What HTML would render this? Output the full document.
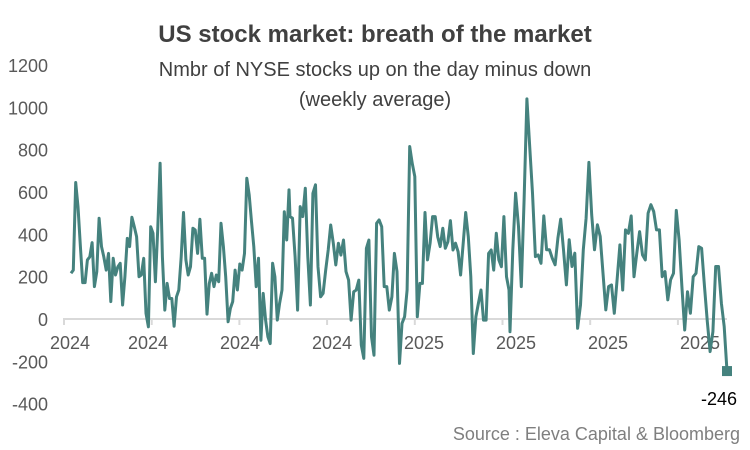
<!DOCTYPE html>
<html><head><meta charset="utf-8"><style>
body{margin:0;background:#fff;}
svg{display:block;font-family:"Liberation Sans",Arial,sans-serif;}
</style></head><body>
<svg id="chart" width="750" height="450" viewBox="0 0 750 450">
<text x="375" y="42" text-anchor="middle" font-size="24" font-weight="bold" fill="#404040">US stock market: breath of the market</text>
<text x="375" y="76" text-anchor="middle" font-size="20" fill="#404040">Nmbr of NYSE stocks up on the day minus down</text>
<text x="375" y="106" text-anchor="middle" font-size="20" fill="#404040">(weekly average)</text>
<g id="yaxis"></g>
<g id="xaxis"></g>
<g id="plot"></g>
<text x="740" y="440" text-anchor="end" font-size="18" fill="#7f7f7f">Source : Eleva Capital &amp; Bloomberg</text>
</svg>
<script>
const yTicks=[1200,1000,800,600,400,200,0,-200,-400];
const xLabels=["2024","2024","2024","2024","2025","2025","2025","2025"];
const values=[216,231,645,531,342,172,172,279,294,361,153,224,476,342,294,231,310,82,287,208,247,263,66,200,381,342,481,436,389,200,208,287,27,-37,436,405,176,421,736,294,42,168,97,97,-34,105,137,294,503,279,208,247,429,421,310,471,287,287,23,168,216,153,208,176,452,342,200,-13,50,82,231,137,260,231,310,665,586,460,342,153,287,-100,121,-5,-84,-116,263,200,-5,74,137,507,373,610,
484,476,294,42,531,484,618,294,66,594,634,247,105,121,231,326,444,358,255,358,302,373,224,184,-5,129,137,184,-123,-186,334,373,-84,-171,452,468,436,153,153,42,105,310,224,-210,-21,11,137,815,736,673,11,168,168,503,279,358,484,484,389,342,429,334,365,465,326,358,318,208,358,503,389,200,-163,11,74,137,-5,-5,310,326,231,405,279,247,484,200,137,
-60,327,595,437,153,563,1040,815,595,295,303,263,487,327,327,287,256,382,472,327,161,374,248,311,-44,66,327,476,740,492,327,445,390,216,43,153,161,27,185,350,137,421,405,487,200,311,413,303,279,500,540,508,421,421,200,224,90,185,216,513,374,153,-52,129,27,200,216,342,334,153,-12,-154,-60,248,248,74,-36,-246];
const segLens=[94,87];
const lastLabel="-246";
const NS="http://www.w3.org/2000/svg";
const y0=319,ppu=254/1200;
function ys(v){return y0-v*ppu;}
const segPx=[[71,289],[290,509],[510,727]];
function xs(i){
  const b1=segLens[0],b2=segLens[0]+segLens[1],n=values.length;
  let s,a,len;
  if(i<b1){s=0;a=i;len=b1;}else if(i<b2){s=1;a=i-b1;len=segLens[1];}else{s=2;a=i-b2;len=n-b2;}
  const r=segPx[s];return r[0]+(r[1]-r[0])*a/Math.max(1,len-1);
}
function mk(tag,attrs,parent){const e=document.createElementNS(NS,tag);for(const k in attrs)e.setAttribute(k,attrs[k]);parent.appendChild(e);return e;}
const ya=document.getElementById('yaxis');
yTicks.forEach(t=>{const e=mk('text',{x:48,y:ys(t)+7,'text-anchor':'end','font-size':18,fill:'#595959'},ya);


e.textContent=t;});
const xa=document.getElementById('xaxis');
const al=mk('line',{x1:63,x2:727,y1:y0,y2:y0,stroke:'#d9d9d9','stroke-width':2},xa);


const tickStep=87.7;
xLabels.forEach((l,i)=>{const tx=64+i*tickStep;
const tk=mk('line',{x1:tx,x2:tx,y1:y0,y2:y0+6,stroke:'#d9d9d9','stroke-width':2},xa);


const e=mk('text',{x:(i===0?70:56+i*92),y:y0+30,'text-anchor':'middle','font-size':18,fill:'#595959'},xa);


e.textContent=l;});
const pl=document.getElementById('plot');
const d=values.map((v,i)=>(i?'L':'M')+xs(i).toFixed(1)+','+ys(v).toFixed(1)).join('');
const p=mk('path',{d:d,fill:'none',stroke:'#45827e','stroke-width':3,'stroke-linejoin':'round'},pl);


const li=values.length-1;
const m=mk('rect',{x:xs(li)-5,y:ys(values[li])-5,width:10,height:10,fill:'#45827e'},pl);


const lt=mk('text',{x:xs(li)-8,y:ys(values[li])+34,'text-anchor':'middle','font-size':18,fill:'#000'},pl);


lt.textContent=lastLabel;
</script>
</body></html>
